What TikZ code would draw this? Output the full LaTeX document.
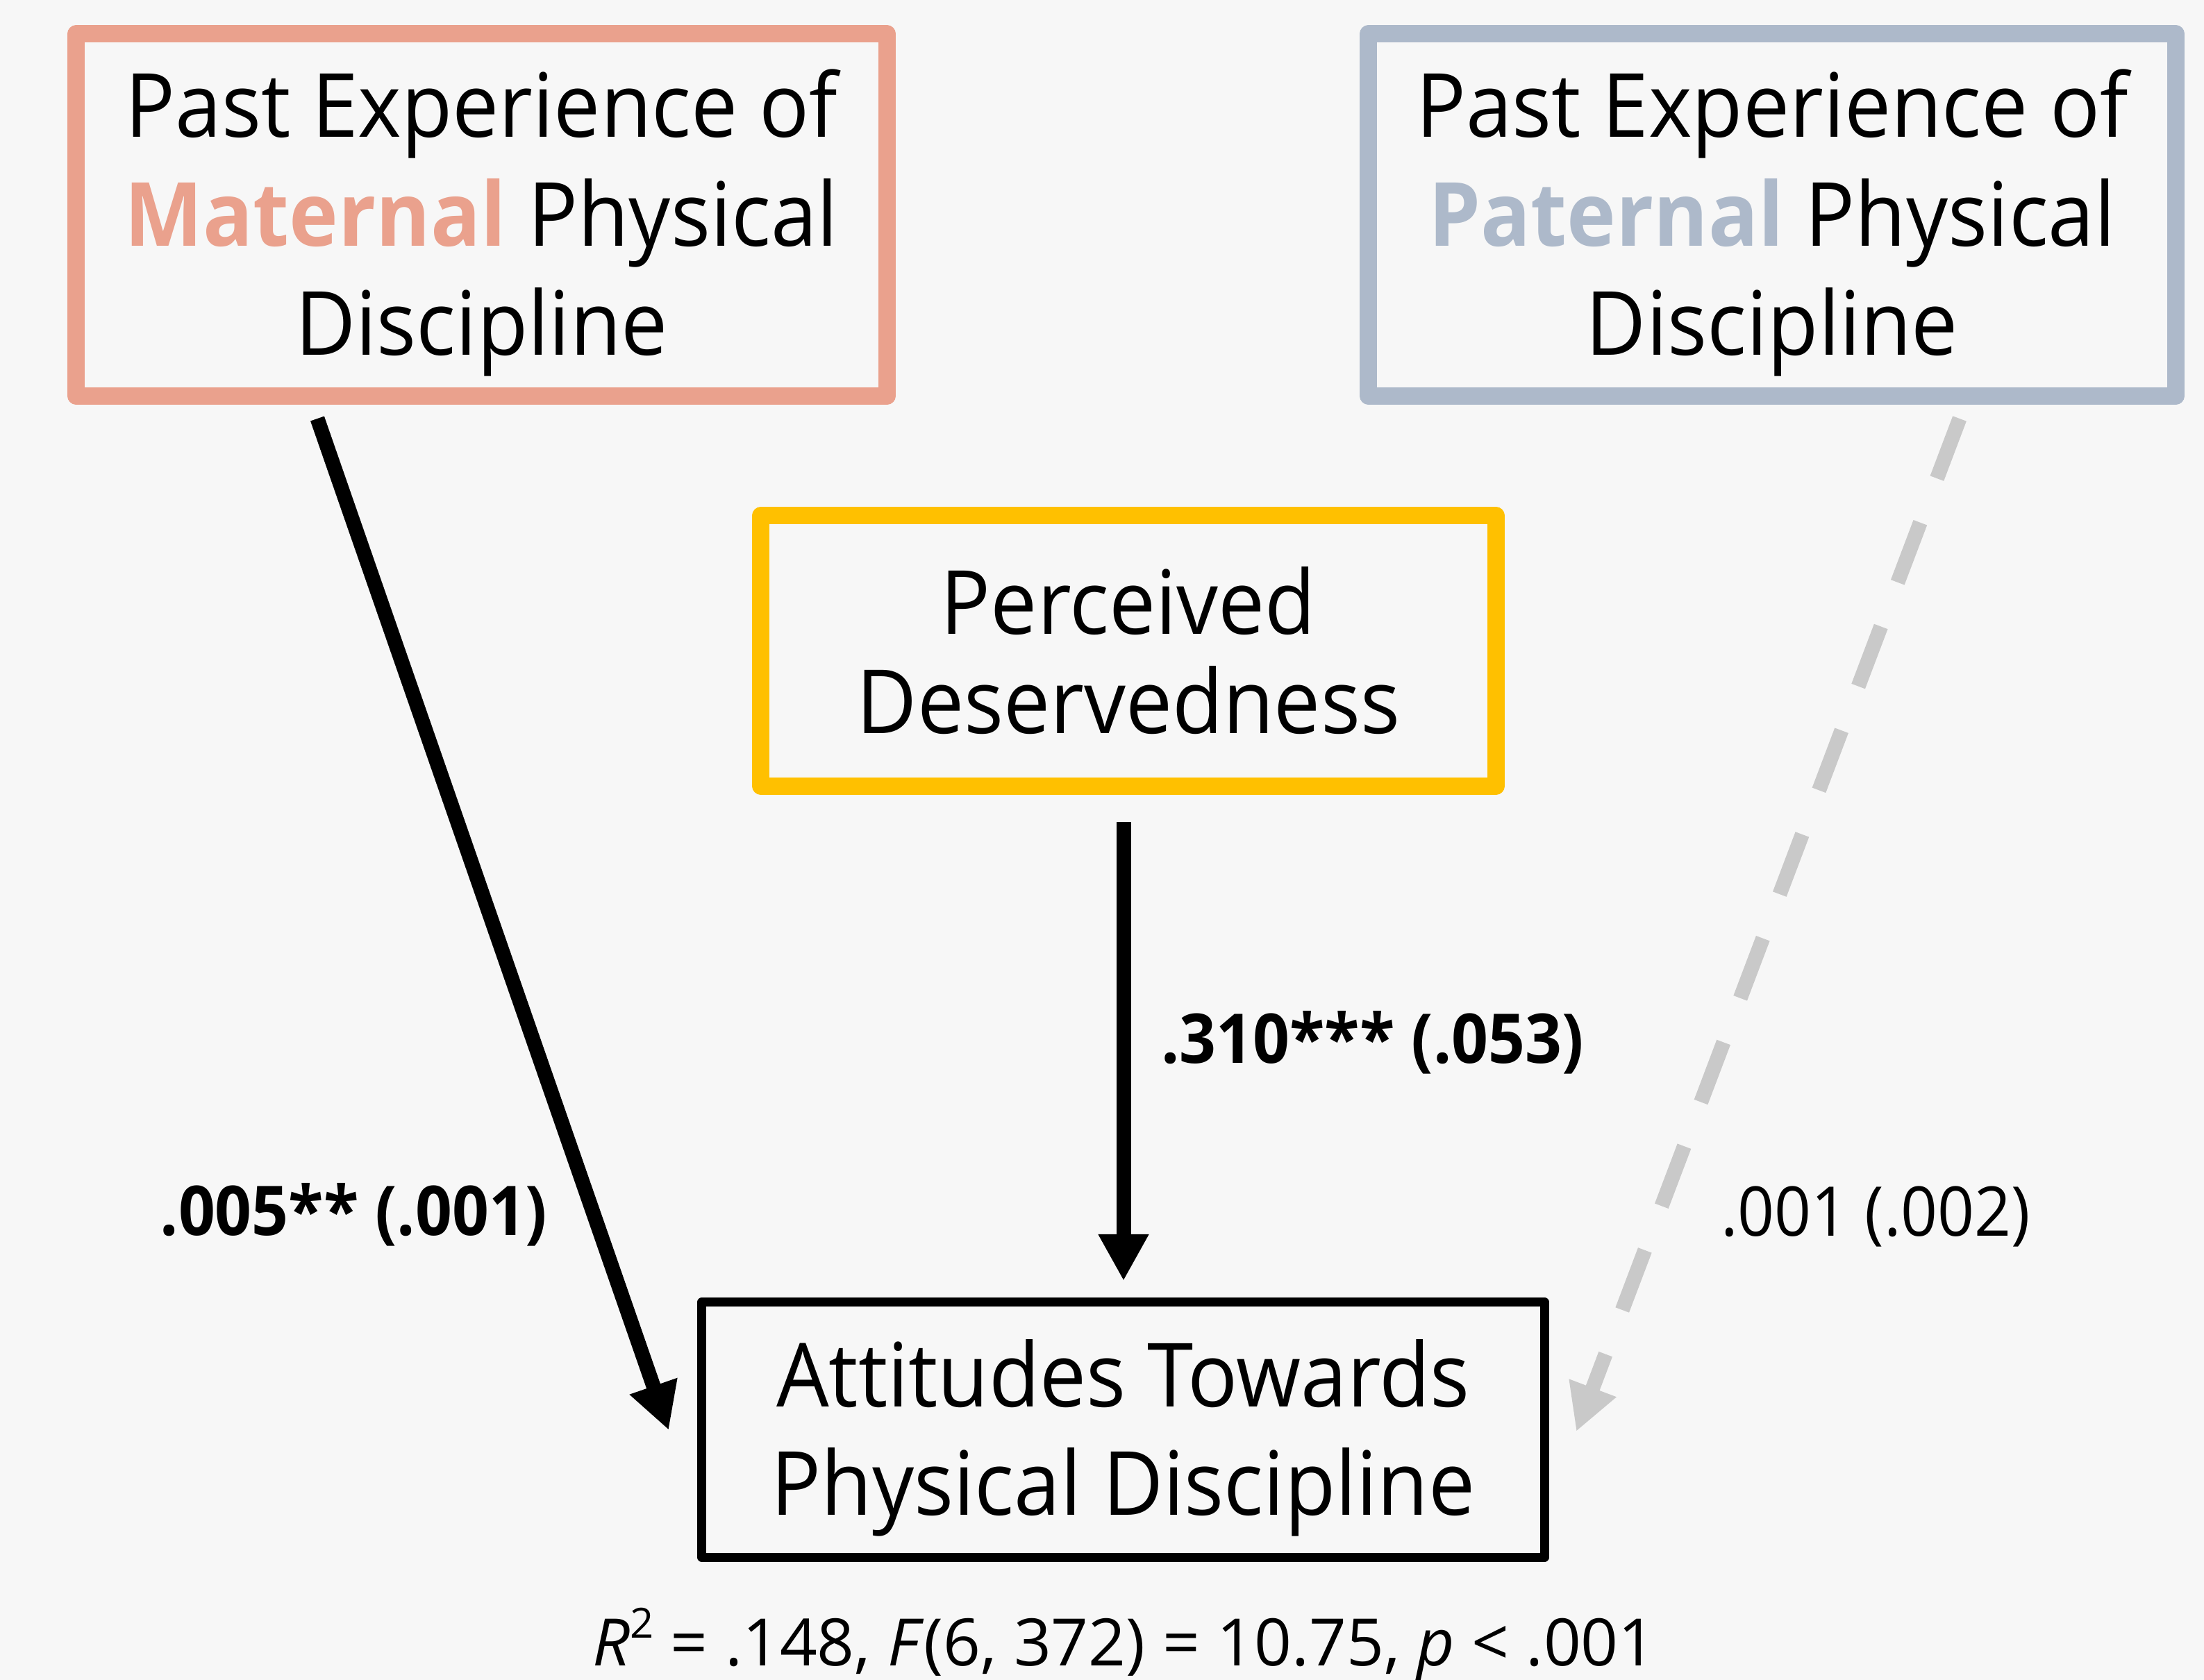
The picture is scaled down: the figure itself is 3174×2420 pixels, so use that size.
\documentclass[tikz,border=0pt]{standalone}
\usepackage{fontspec}
\setmainfont{Open Sans}[FakeStretch=0.937]
\newfontfamily\statfont{Open Sans}
\usetikzlibrary{arrows.meta}
\definecolor{bg}{HTML}{F7F7F7}
\definecolor{matc}{HTML}{EAA18D}
\definecolor{patc}{HTML}{ADB9CA}
\definecolor{yel}{HTML}{FFC000}
\definecolor{dashc}{HTML}{C9C9C9}
\begin{document}
\begin{tikzpicture}[x=0.01cm,y=-0.01cm,
  box/.style={draw, rectangle, line join=round, inner sep=0pt, align=center},
  parentbox/.style={box, line width=0.25cm, minimum height=5.21cm,
    font=\fontsize{36.3pt}{44.7pt}\selectfont},
  effect/.style={line width=0.21cm, -{Triangle[length=0.67cm,width=0.68cm]}},
  coef/.style={font=\fontsize{28.1pt}{34pt}\selectfont, anchor=base, inner sep=0pt}]
\useasboundingbox (0,0) rectangle (3174,2420);
\fill[bg] (0,0) rectangle (3174,2420);

\node[parentbox, draw=matc, minimum width=11.67cm] (mat) at (693.5,309.5)
  {\rule{0pt}{1.21cm}Past Experience of\\{\bfseries\color{matc}Maternal} Physical\\Discipline};
\node[parentbox, draw=patc, minimum width=11.62cm] (pat) at (2552,309.5)
  {\rule{0pt}{1.21cm}Past Experience of\\{\bfseries\color{patc}Paternal} Physical\\Discipline};
\node[box, draw=yel, line width=0.25cm, minimum width=10.58cm, minimum height=3.89cm,
  font=\fontsize{36.3pt}{40.7pt}\selectfont] (des) at (1625,937.5)
  {Perceived\\Deservedness};
\node[box, draw=black, line width=0.13cm, minimum width=12.13cm, minimum height=3.67cm,
  font=\fontsize{36.3pt}{44.4pt}\selectfont] (att) at (1617.5,2059.5)
  {\rule{0pt}{1.21cm}Attitudes Towards\\Physical Discipline};

\coordinate (m0) at (457,603);
\coordinate (m1) at (963,2060);
\coordinate (p0) at (2822,603);
\coordinate (p1) at (2270,2062);
\coordinate (d0) at (1618,1184);
\coordinate (d1) at (1618,1845);

\draw[effect] (m0) -- (m1);
\draw[effect] (d0) -- (d1);
\draw[effect, dashc, dash pattern=on 0.92cm off 0.68cm] (p0) -- (p1);

\node[coef] (lm) at (509.5,1779) {\bfseries .005** (.001)};
\node[coef] (ld) at (1976.5,1531) {\bfseries .310*** (.053)};
\node[coef] (lp) at (2701,1780) {.001 (.002)};
\node[anchor=base, inner sep=0pt, font=\statfont\fontsize{26.8pt}{32pt}\selectfont] (stat) at (1619,2399)
  {\textit{R}\raisebox{0.42em}{\fontsize{17pt}{20pt}\selectfont 2} = .148, \textit{F}(6, 372) = 10.75, \textit{p} < .001};
\end{tikzpicture}
\end{document}
